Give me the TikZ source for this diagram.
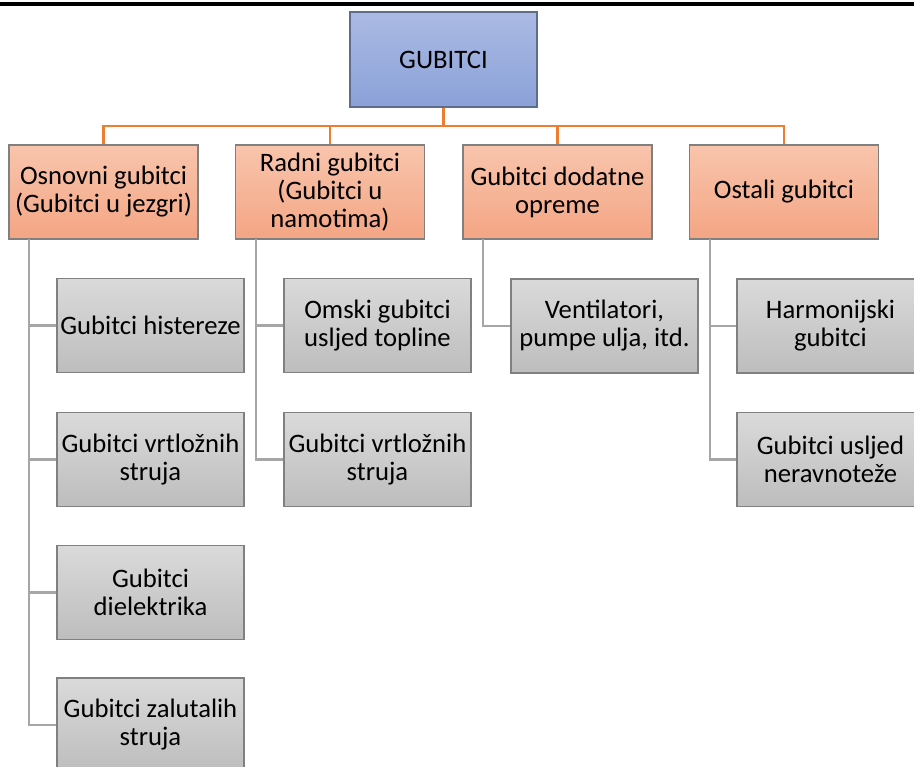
\documentclass[tikz,border=0pt]{standalone}
\usepackage{fontspec}
\setmainfont{Carlito}
\definecolor{topblueA}{HTML}{ABBAE3}
\definecolor{topblueB}{HTML}{8AA1D8}
\definecolor{topedge}{HTML}{5E6E8A}
\definecolor{orangeA}{HTML}{F8C5AC}
\definecolor{orangeB}{HTML}{F4A584}
\definecolor{orangeline}{HTML}{ED7D31}
\definecolor{greyA}{HTML}{DADADA}
\definecolor{greyB}{HTML}{BDBDBD}
\definecolor{greyedge}{HTML}{808080}
\definecolor{greyline}{HTML}{A6A6A6}
\tikzset{
  box/.style={draw=greyedge, line width=1pt, align=center, inner sep=2pt,
    font=\fontsize{20}{21}\selectfont},
  rootbox/.style={box, draw=topedge, top color=topblueA, bottom color=topblueB,
    minimum width=140.25pt, minimum height=71.25pt},
  groupbox/.style={box, top color=orangeA, bottom color=orangeB,
    minimum width=141.75pt, minimum height=70.5pt},
  lossbox/.style={box, top color=greyA, bottom color=greyB,
    minimum width=140.25pt, minimum height=70.5pt},
  orangelink/.style={draw=orangeline, line width=1.8pt},
  greylink/.style={draw=greyline, line width=1.6pt}
}
\begin{document}
\begin{tikzpicture}[x=0.75pt,y=0.75pt,yscale=-1,xscale=1]
\useasboundingbox (0,0) rectangle (914,767);
\draw [line width=2.4pt] (0,4) -- (914,4);
% vrh
\node [rootbox] (root) at (443.5,59.5) {GUBITCI};
% prva razina
\node [groupbox] (osn) at (103.5,192) {Osnovni gubitci\\(Gubitci u jezgri)};
\node [groupbox] (rad) at (330,192) {Radni gubitci\\(Gubitci u\\namotima)};
\node [groupbox] (dod) at (557.5,192) {Gubitci dodatne\\opreme};
\node [groupbox] (ost) at (784,192) {Ostali gubitci};
% druga razina
\node [lossbox] (hist) at (150.5,325.5) {Gubitci histereze};
\node [lossbox] (vrt) at (150.5,459.5) {Gubitci vrtložnih\\struja};
\node [lossbox] (diel) at (150.5,592.5) {Gubitci\\dielektrika};
\node [lossbox] (zal) at (150.5,725) {Gubitci zalutalih\\struja};
\node [lossbox] (omski) at (377.5,325.5) {Omski gubitci\\usljed topline};
\node [lossbox] (vrtn) at (377.5,459.5) {Gubitci vrtložnih\\struja};
\node [lossbox] (vent) at (604.5,326) {Ventilatori,\\pumpe ulja, itd.};
\node [lossbox] (harm) at (830.5,326) {Harmonijski\\gubitci};
\node [lossbox] (nerav) at (830.5,459.5) {Gubitci usljed\\neravnoteže};
% veze
\coordinate (bus) at (443.5,126);
\draw [orangelink] (root.south) -- (bus);
\foreach \g in {osn,rad,dod,ost}
  \draw [orangelink] (bus) -| (\g.north);
\coordinate (osnfoot) at (29,239);
\coordinate (radfoot) at (256,239);
\coordinate (dodfoot) at (483,239);
\coordinate (ostfoot) at (710,239);
\foreach \l in {hist,vrt,diel,zal}
  \draw [greylink] (osnfoot) |- (\l.west);
\foreach \l in {omski,vrtn}
  \draw [greylink] (radfoot) |- (\l.west);
\draw [greylink] (dodfoot) |- (vent.west);
\foreach \l in {harm,nerav}
  \draw [greylink] (ostfoot) |- (\l.west);
\end{tikzpicture}
\end{document}
